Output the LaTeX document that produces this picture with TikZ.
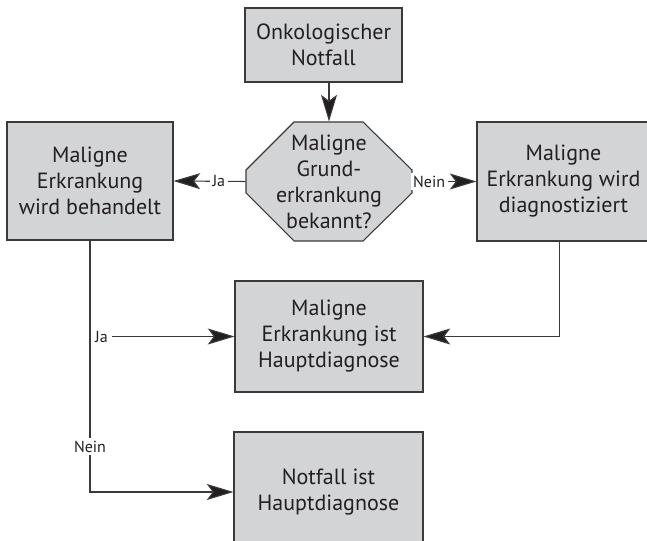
\documentclass[tikz,border=0pt]{standalone}
\usepackage{fontspec}
\setmainfont{PT Sans}
\usetikzlibrary{arrows.meta,positioning}
\definecolor{boxgray}{HTML}{D3D4D6}
\definecolor{linegray}{HTML}{3A3A3A}
\definecolor{textgray}{HTML}{231F20}
\tikzset{
  box/.style={draw=linegray, line width=0.8pt, fill=boxgray, align=center, inner sep=0pt,
    text=textgray, font=\fontsize{16.5}{19.5}\selectfont},
  lbl/.style={fill=white, inner sep=2pt, text=textgray, font=\fontsize{12}{14}\selectfont},
}
\begin{document}
\begin{tikzpicture}[x=0.75pt, y=-0.75pt, line width=0.8pt, draw=linegray,
    >={Stealth[length=20pt, width=12pt, inset=4.5pt, fill=textgray]}]
      \useasboundingbox (0,0) rectangle (647,541);
      \clip (0,0) rectangle (647,541);
      % boxes
      \node[box, minimum width=117.75pt, minimum height=55.5pt] (top) at (323.5,45) {Onkologischer\\Notfall};
      \draw[box] (294,122) -- (363,122) -- (412,170) -- (412,193) -- (363,241) -- (294,241) -- (246,193) -- (246,170) -- cycle;
      \node[align=center, inner sep=0pt, minimum width=124.5pt, minimum height=89.25pt, text=textgray,
        font=\fontsize{16.5}{19.5}\selectfont] (dec) at (329,181.5) {Maligne\\Grund-\\erkrankung\\bekannt?};
      \node[box, minimum width=124.5pt, minimum height=88.5pt] (left) at (90,181) {Maligne\\Erkrankung\\wird behandelt};
      \node[box, minimum width=129.75pt, minimum height=89.25pt] (right) at (563.5,181.5) {Maligne\\Erkrankung wird\\diagnostiziert};
      \node[box, minimum width=141pt, minimum height=83.25pt] (mid) at (329,336.5) {Maligne\\Erkrankung ist\\Hauptdiagnose};
      \node[box, minimum width=141.75pt, minimum height=90pt] (bot) at (328.5,492) {Notfall ist\\Hauptdiagnose};
      % arrows
      \draw[->] (top.south -| dec.north) -- (dec.north);
      \draw[->] (dec.west) -- node[lbl, pos=0.37] {Ja} (left.east);
      \draw[->] (dec.east) -- node[lbl, pos=0.26] {Nein} (right.west);
      \draw[->] (left.south) |- node[lbl, pos=0.41] {Nein} (bot.west);
      \node[lbl, anchor=west, inner sep=3pt] (ja) at ([xshift=0.5pt]left.south |- mid.west) {Ja};
      \draw[->] (ja) -- (mid.west);
      \draw[->] ([xshift=-3pt]right.south) |- (mid.east);
    \end{tikzpicture}
\end{document}
